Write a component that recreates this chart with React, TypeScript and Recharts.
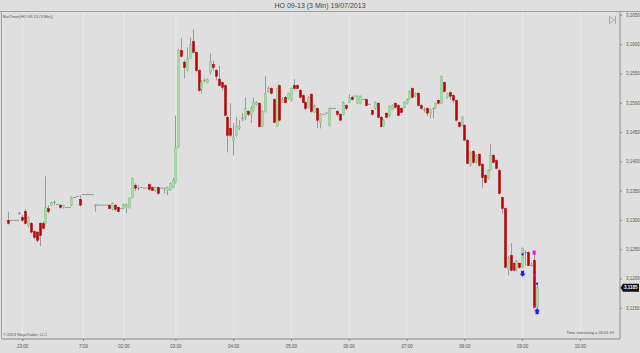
import React from 'react';
import { ComposedChart, Bar, Scatter, XAxis, YAxis, CartesianGrid } from 'recharts';

// HO 09-13, 3 minute bars, 19/07/2013
const openPrices = [
  3.1300, 3.1300, 3.1300, 3.1300, 3.1312, 3.1305, 3.1315, 3.1291, 3.1295, 3.1281,
  3.1280, 3.1295, 3.1295, 3.1295, 3.1320, 3.1326, 3.1331, 3.1327, 3.1326, 3.1322,
  3.1322, 3.1322, 3.1326, 3.1339, 3.1341, 3.1336, 3.1344, 3.1344, 3.1344, 3.1344,
  3.1326, 3.1326, 3.1326, 3.1326, 3.1326, 3.1326, 3.1319, 3.1326, 3.1322, 3.1320,
  3.1320, 3.1322, 3.1322, 3.1339, 3.1360, 3.1355, 3.1356, 3.1355, 3.1355, 3.1361,
  3.1356, 3.1351, 3.1356, 3.1355, 3.1355, 3.1351, 3.1351, 3.1356, 3.1365, 3.1425,
  3.1590, 3.1570, 3.1556, 3.1576, 3.1605, 3.1587, 3.1556, 3.1525, 3.1539, 3.1535,
  3.1553, 3.1566, 3.1556, 3.1541, 3.1535, 3.1530, 3.1476, 3.1457, 3.1437, 3.1445,
  3.1457, 3.1474, 3.1476, 3.1486, 3.1481, 3.1488, 3.1498, 3.1500, 3.1460, 3.1486,
  3.1520, 3.1525, 3.1506, 3.1460, 3.1530, 3.1501, 3.1510, 3.1508, 3.1505, 3.1530,
  3.1530, 3.1522, 3.1513, 3.1501, 3.1493, 3.1515, 3.1484, 3.1491, 3.1467, 3.1481,
  3.1483, 3.1462, 3.1491, 3.1491, 3.1486, 3.1481, 3.1481, 3.1496, 3.1501, 3.1510,
  3.1512, 3.1500, 3.1500, 3.1506, 3.1506, 3.1498, 3.1488, 3.1491, 3.1500, 3.1476,
  3.1460, 3.1483, 3.1479, 3.1489, 3.1500, 3.1496, 3.1491, 3.1493, 3.1500, 3.1508,
  3.1525, 3.1512, 3.1517, 3.1496, 3.1489, 3.1491, 3.1483, 3.1491, 3.1493, 3.1505,
  3.1500, 3.1535, 3.1510, 3.1518, 3.1513, 3.1505, 3.1467, 3.1462, 3.1462, 3.1437,
  3.1394, 3.1418, 3.1399, 3.1413, 3.1396, 3.1377, 3.1372, 3.1385, 3.1411, 3.1402,
  3.1385, 3.1339, 3.1320, 3.1216, 3.1240, 3.1227, 3.1215, 3.1227, 3.1220, 3.1245,
  3.1245, 3.1223, 3.1232, 3.1152,
];

const highPrices = [
  3.1315, 3.1300, 3.1300, 3.1300, 3.1315, 3.1309, 3.1319, 3.1307, 3.1297, 3.1283,
  3.1281, 3.1297, 3.1298, 3.1375, 3.1326, 3.1332, 3.1334, 3.1327, 3.1327, 3.1327,
  3.1322, 3.1322, 3.1341, 3.1339, 3.1341, 3.1343, 3.1344, 3.1344, 3.1344, 3.1344,
  3.1327, 3.1326, 3.1326, 3.1326, 3.1326, 3.1327, 3.1331, 3.1327, 3.1324, 3.1320,
  3.1329, 3.1329, 3.1339, 3.1373, 3.1363, 3.1360, 3.1356, 3.1355, 3.1355, 3.1363,
  3.1358, 3.1358, 3.1358, 3.1355, 3.1355, 3.1358, 3.1365, 3.1372, 3.1479, 3.1593,
  3.1611, 3.1573, 3.1595, 3.1612, 3.1626, 3.1588, 3.1558, 3.1539, 3.1542, 3.1542,
  3.1585, 3.1573, 3.1558, 3.1564, 3.1537, 3.1532, 3.1478, 3.1500, 3.1466, 3.1476,
  3.1471, 3.1483, 3.1510, 3.1488, 3.1495, 3.1510, 3.1503, 3.1501, 3.1488, 3.1546,
  3.1529, 3.1527, 3.1508, 3.1527, 3.1532, 3.1510, 3.1512, 3.1518, 3.1527, 3.1541,
  3.1532, 3.1524, 3.1515, 3.1503, 3.1512, 3.1517, 3.1498, 3.1493, 3.1483, 3.1481,
  3.1483, 3.1493, 3.1491, 3.1491, 3.1488, 3.1483, 3.1503, 3.1498, 3.1515, 3.1513,
  3.1512, 3.1513, 3.1513, 3.1506, 3.1508, 3.1498, 3.1489, 3.1503, 3.1501, 3.1478,
  3.1472, 3.1484, 3.1496, 3.1498, 3.1501, 3.1498, 3.1493, 3.1503, 3.1508, 3.1522,
  3.1527, 3.1518, 3.1518, 3.1498, 3.1493, 3.1493, 3.1491, 3.1491, 3.1501, 3.1506,
  3.1547, 3.1537, 3.1518, 3.1520, 3.1515, 3.1506, 3.1469, 3.1478, 3.1464, 3.1438,
  3.1418, 3.1420, 3.1413, 3.1414, 3.1397, 3.1379, 3.1387, 3.1431, 3.1413, 3.1404,
  3.1387, 3.1341, 3.1322, 3.1239, 3.1261, 3.1228, 3.1233, 3.1228, 3.1254, 3.1249,
  3.1247, 3.1228, 3.1245, 3.1192,
];

const lowPrices = [
  3.1293, 3.1300, 3.1300, 3.1300, 3.1309, 3.1298, 3.1293, 3.1288, 3.1278, 3.1268,
  3.1262, 3.1256, 3.1285, 3.1293, 3.1312, 3.1324, 3.1326, 3.1327, 3.1320, 3.1320,
  3.1322, 3.1322, 3.1324, 3.1339, 3.1341, 3.1324, 3.1344, 3.1344, 3.1344, 3.1344,
  3.1315, 3.1326, 3.1326, 3.1326, 3.1326, 3.1319, 3.1317, 3.1317, 3.1314, 3.1320,
  3.1319, 3.1312, 3.1320, 3.1338, 3.1350, 3.1351, 3.1356, 3.1355, 3.1355, 3.1351,
  3.1350, 3.1348, 3.1344, 3.1355, 3.1346, 3.1343, 3.1350, 3.1355, 3.1363, 3.1423,
  3.1578, 3.1542, 3.1554, 3.1575, 3.1585, 3.1554, 3.1520, 3.1517, 3.1535, 3.1534,
  3.1549, 3.1556, 3.1539, 3.1529, 3.1522, 3.1478, 3.1416, 3.1442, 3.1411, 3.1443,
  3.1454, 3.1469, 3.1471, 3.1478, 3.1466, 3.1486, 3.1496, 3.1459, 3.1459, 3.1484,
  3.1518, 3.1515, 3.1466, 3.1459, 3.1469, 3.1500, 3.1500, 3.1506, 3.1503, 3.1524,
  3.1524, 3.1508, 3.1500, 3.1488, 3.1491, 3.1484, 3.1483, 3.1457, 3.1457, 3.1481,
  3.1483, 3.1460, 3.1491, 3.1491, 3.1478, 3.1469, 3.1479, 3.1488, 3.1500, 3.1505,
  3.1512, 3.1498, 3.1498, 3.1506, 3.1495, 3.1498, 3.1479, 3.1489, 3.1474, 3.1459,
  3.1459, 3.1474, 3.1476, 3.1488, 3.1491, 3.1478, 3.1483, 3.1491, 3.1498, 3.1506,
  3.1508, 3.1510, 3.1495, 3.1489, 3.1484, 3.1478, 3.1474, 3.1474, 3.1491, 3.1498,
  3.1498, 3.1518, 3.1508, 3.1505, 3.1500, 3.1469, 3.1459, 3.1460, 3.1435, 3.1396,
  3.1392, 3.1397, 3.1397, 3.1392, 3.1356, 3.1363, 3.1370, 3.1384, 3.1397, 3.1387,
  3.1344, 3.1312, 3.1218, 3.1206, 3.1213, 3.1213, 3.1213, 3.1218, 3.1218, 3.1223,
  3.1222, 3.1222, 3.1150, 3.1148,
];

const closePrices = [
  3.1295, 3.1300, 3.1300, 3.1300, 3.1312, 3.1300, 3.1295, 3.1305, 3.1280, 3.1271,
  3.1266, 3.1274, 3.1286, 3.1322, 3.1315, 3.1331, 3.1331, 3.1327, 3.1322, 3.1326,
  3.1322, 3.1322, 3.1339, 3.1339, 3.1341, 3.1326, 3.1344, 3.1344, 3.1344, 3.1344,
  3.1326, 3.1326, 3.1326, 3.1326, 3.1326, 3.1320, 3.1329, 3.1319, 3.1315, 3.1320,
  3.1327, 3.1327, 3.1338, 3.1372, 3.1355, 3.1355, 3.1356, 3.1355, 3.1355, 3.1353,
  3.1351, 3.1356, 3.1346, 3.1355, 3.1355, 3.1356, 3.1363, 3.1368, 3.1425, 3.1590,
  3.1580, 3.1561, 3.1575, 3.1600, 3.1587, 3.1556, 3.1522, 3.1535, 3.1539, 3.1541,
  3.1570, 3.1561, 3.1546, 3.1530, 3.1527, 3.1479, 3.1445, 3.1445, 3.1442, 3.1460,
  3.1460, 3.1474, 3.1491, 3.1481, 3.1491, 3.1501, 3.1501, 3.1460, 3.1486, 3.1517,
  3.1525, 3.1517, 3.1467, 3.1525, 3.1471, 3.1506, 3.1501, 3.1517, 3.1525, 3.1525,
  3.1525, 3.1510, 3.1501, 3.1491, 3.1510, 3.1486, 3.1496, 3.1471, 3.1481, 3.1481,
  3.1483, 3.1491, 3.1491, 3.1491, 3.1481, 3.1471, 3.1501, 3.1491, 3.1510, 3.1506,
  3.1512, 3.1512, 3.1512, 3.1506, 3.1496, 3.1498, 3.1481, 3.1501, 3.1476, 3.1460,
  3.1471, 3.1476, 3.1495, 3.1496, 3.1493, 3.1479, 3.1484, 3.1501, 3.1506, 3.1520,
  3.1510, 3.1517, 3.1496, 3.1491, 3.1489, 3.1483, 3.1489, 3.1491, 3.1500, 3.1500,
  3.1546, 3.1520, 3.1517, 3.1512, 3.1505, 3.1471, 3.1460, 3.1476, 3.1437, 3.1397,
  3.1416, 3.1399, 3.1411, 3.1394, 3.1373, 3.1365, 3.1385, 3.1411, 3.1399, 3.1389,
  3.1346, 3.1320, 3.1220, 3.1237, 3.1215, 3.1215, 3.1232, 3.1220, 3.1252, 3.1245,
  3.1223, 3.1223, 3.1152, 3.1185,
];

// time axis: bar number where each label sits
const timeTickBars = [5, 26, 40, 58, 78, 98, 118, 138, 158, 178, 198];
const timeTickLabels = ['23:00', '7/19', '02:00', '03:00', '04:00', '05:00', '06:00', '07:00', '08:00', '09:00', '10:00'];
const priceTicks = [3.115, 3.12, 3.125, 3.13, 3.135, 3.14, 3.145, 3.15, 3.155, 3.16, 3.165];

// strategy arrows on the last bars
const markerBars = [178, 178, 182, 182, 182, 183, 183];
const markerPrices = [3.1242, 3.1209, 3.1245, 3.1206, 3.1152, 3.1192, 3.1145];
const markerColors = ['#1a1aff', '#1a1aff', '#ff00ff', '#ff00ff', '#ff00ff', '#1a1aff', '#1a1aff'];
const markerKinds = ['dot', 'down', 'box', 'dot', 'dot', 'dot', 'up'];

const lastPrice = 3.1185;

const bars = openPrices.map((o, i) => ({
  i,
  o,
  h: highPrices[i],
  l: lowPrices[i],
  c: closePrices[i],
  range: [lowPrices[i], highPrices[i]],
}));

const markers = markerBars.map((b, k) => ({ i: b, p: markerPrices[k], color: markerColors[k], kind: markerKinds[k] }));

const fmtPrice = (v: number) => v.toFixed(4).replace('.', ',');

const Candle = (props: any) => {
  const { x, y, width, height, payload } = props;
  if (!payload || x == null) return null;
  const { o, h, l, c } = payload;
  const top = Math.min(y, y + height);
  const bottom = Math.max(y, y + height);
  const span = h - l;
  const py = (p: number) => (span > 0 ? top + ((h - p) / span) * (bottom - top) : bottom);
  const cx = Math.round(x + width / 2);
  const yo = py(o);
  const yc = py(c);
  const bodyTop = Math.min(yo, yc);
  const bodyH = Math.abs(yc - yo);
  const up = c > o;
  return (
    <g>
      {span > 0 && <line x1={cx + 0.5} x2={cx + 0.5} y1={top} y2={bottom} stroke="#9a9a9a" strokeWidth={1} />}
      {bodyH < 1.2 ? (
        <line x1={cx - 1} x2={cx + 2} y1={yo} y2={yo} stroke="#999999" strokeWidth={1} />
      ) : (
        <rect
          x={cx - 0.5}
          y={bodyTop}
          width={2}
          height={bodyH}
          fill={up ? '#a6dba6' : '#c40000'}
          stroke={up ? '#86c086' : '#a80000'}
          strokeWidth={0.5}
        />
      )}
    </g>
  );
};

const Marker = (props: any) => {
  const { cx, cy, payload } = props;
  if (cx == null || !payload) return null;
  const col = payload.color;
  if (payload.kind === 'down') {
    return <path d={`M${cx - 1.5},${cy - 3}h3v3h1.5l-3,3l-3,-3h1.5z`} fill={col} />;
  }
  if (payload.kind === 'up') {
    return <path d={`M${cx - 1.5},${cy + 3}h3v-3h1.5l-3,-3l-3,3h1.5z`} fill={col} />;
  }
  if (payload.kind === 'box') {
    return <rect x={cx - 1.5} y={cy - 2} width={3} height={4} fill={col} />;
  }
  return <rect x={cx - 1} y={cy - 1} width={2} height={2} fill={col} />;
};

const PriceTick = (props: any) => {
  const { x, y, payload } = props;
  return (
    <text x={x + 2} y={y + 1.5} fontSize={4.5} fill="#555" fontFamily="Liberation Sans, Arial, sans-serif">
      {fmtPrice(payload.value)}
    </text>
  );
};

const TimeTick = (props: any) => {
  const { x, y, payload } = props;
  const k = timeTickBars.indexOf(payload.value);
  return (
    <text x={x} y={y + 5} fontSize={4.5} fill="#555" textAnchor="middle" fontFamily="Liberation Sans, Arial, sans-serif">
      {k >= 0 ? timeTickLabels[k] : ''}
    </text>
  );
};

const W = 640;
const H = 353;
const plotTop = 12;
const plotBottom = 339;
const plotLeft = 2;
const plotRight = 620;
const yMin = 3.10976;
const yMax = 3.16556;
const lastY = plotTop + ((yMax - lastPrice) / (yMax - yMin)) * (plotBottom - plotTop);

export default function App() {
  const font = 'Liberation Sans, Arial, sans-serif';
  return (
    <div style={{ position: 'absolute', left: 0, top: 0, width: W, height: H, background: '#dfdfdf', overflow: 'hidden' }}>
      <ComposedChart
        width={W}
        height={H}
        data={bars}
        margin={{ top: plotTop, right: 0, bottom: 0, left: plotLeft }}
      >
        <CartesianGrid stroke="#e9e9e9" strokeWidth={1} horizontal={false} vertical={true} />
        <XAxis
          dataKey="i"
          type="number"
          domain={[-2.18, 211.7]}
          allowDataOverflow
          ticks={timeTickBars}
          interval={0}
          height={H - plotBottom}
          tick={<TimeTick />}
          tickSize={2}
          tickLine={{ stroke: '#888' }}
          axisLine={{ stroke: '#888' }}
        />
        <YAxis
          orientation="right"
          type="number"
          domain={[yMin, yMax]}
          allowDataOverflow
          ticks={priceTicks}
          interval={0}
          width={W - plotRight}
          tick={<PriceTick />}
          tickSize={2}
          tickLine={{ stroke: '#888' }}
          axisLine={{ stroke: '#888' }}
        />
        <Bar dataKey="range" shape={<Candle />} barSize={2} minPointSize={1} isAnimationActive={false} />
        <Scatter data={markers} dataKey="p" shape={<Marker />} isAnimationActive={false} />
      </ComposedChart>
      <svg
        width={W}
        height={H}
        style={{ position: 'absolute', left: 0, top: 0, pointerEvents: 'none' }}
      >
        <line x1={0} x2={W} y1={plotTop - 0.5} y2={plotTop - 0.5} stroke="#a0a0a0" />
        <line x1={plotLeft - 0.5} x2={plotLeft - 0.5} y1={plotTop} y2={plotBottom} stroke="#a0a0a0" />
        <text x={320} y={8} fontSize={7} fill="#444" textAnchor="middle" fontFamily={font}>
          HO 09-13 (3 Min)  19/07/2013
        </text>
        <text x={3} y={18} fontSize={4} fill="#555" fontFamily={font}>
          BarTimer(HO 09-13 (3 Min))
        </text>
        <path d="M609.5,16.5 L614.5,20 L609.5,23.5 Z M615.5,16 L615.5,24" fill="none" stroke="#999" strokeWidth={0.8} />
        <text x={3} y={336} fontSize={4} fill="#555" fontFamily={font}>
          © 2013 NinjaTrader, LLC
        </text>
        <text x={614} y={334} fontSize={4} fill="#555" textAnchor="end" fontFamily={font}>
          Time remaining = 00:01:19
        </text>
        <path
          d={`M${plotRight + 0.5},${lastY} L${plotRight + 3},${lastY - 4} H${W - 1} V${lastY + 4} H${plotRight + 3} Z`}
          fill="#111"
        />
        <text x={plotRight + 4} y={lastY + 1.6} fontSize={4.5} fontWeight="bold" fill="#fff" fontFamily={font}>
          {fmtPrice(lastPrice)}
        </text>
      </svg>
    </div>
  );
}
